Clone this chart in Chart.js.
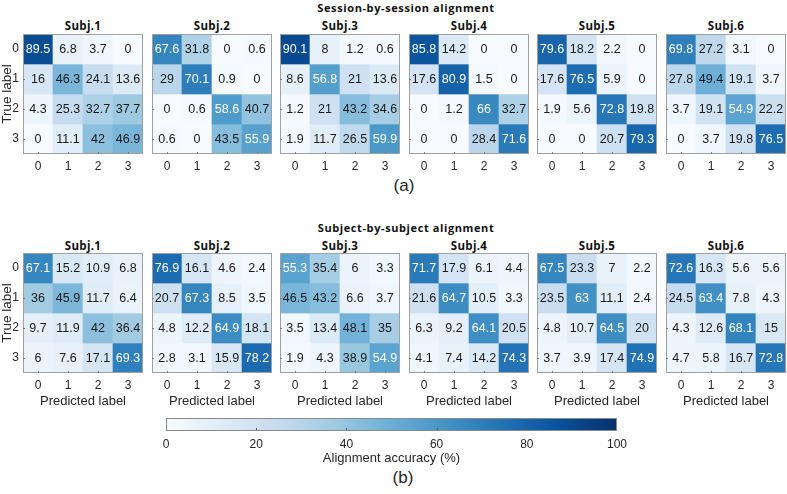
<!DOCTYPE html>
<html><head><meta charset="utf-8">
<script src="https://cdn.jsdelivr.net/npm/chart.js@4/dist/chart.umd.min.js"></script>
<style>
body{margin:0;background:#fff;width:787px;height:494px;overflow:hidden;position:relative;font-family:"Liberation Sans",Arial,sans-serif;color:#262626}
canvas{position:absolute}
.t{position:absolute;white-space:nowrap;transform:translate(-50%,-50%);line-height:1}
.sec{font-family:"Open Sans",sans-serif;font-weight:700;font-size:11px;letter-spacing:0.6px;color:#111}
.subj{font-family:"Open Sans",sans-serif;font-weight:700;font-size:11.5px;letter-spacing:0.3px;color:#111}
.lab{font-size:17px}
.yl{font-size:13.5px;transform:translate(-50%,-50%) rotate(-90deg)}
</style></head><body>
<script>
const predictedLabels = ['0','1','2','3'];
const trueLabels = ['0','1','2','3'];
const subjects = ['Subj.1','Subj.2','Subj.3','Subj.4','Subj.5','Subj.6'];

// (a) Session-by-session alignment
const sessionS1 = [[89.5,6.8,3.7,0],[16,46.3,24.1,13.6],[4.3,25.3,32.7,37.7],[0,11.1,42,46.9]];
const sessionS2 = [[67.6,31.8,0,0.6],[29,70.1,0.9,0],[0,0.6,58.6,40.7],[0.6,0,43.5,55.9]];
const sessionS3 = [[90.1,8,1.2,0.6],[8.6,56.8,21,13.6],[1.2,21,43.2,34.6],[1.9,11.7,26.5,59.9]];
const sessionS4 = [[85.8,14.2,0,0],[17.6,80.9,1.5,0],[0,1.2,66,32.7],[0,0,28.4,71.6]];
const sessionS5 = [[79.6,18.2,2.2,0],[17.6,76.5,5.9,0],[1.9,5.6,72.8,19.8],[0,0,20.7,79.3]];
const sessionS6 = [[69.8,27.2,3.1,0],[27.8,49.4,19.1,3.7],[3.7,19.1,54.9,22.2],[0,3.7,19.8,76.5]];

// (b) Subject-by-subject alignment
const subjectS1 = [[67.1,15.2,10.9,6.8],[36,45.9,11.7,6.4],[9.7,11.9,42,36.4],[6,7.6,17.1,69.3]];
const subjectS2 = [[76.9,16.1,4.6,2.4],[20.7,67.3,8.5,3.5],[4.8,12.2,64.9,18.1],[2.8,3.1,15.9,78.2]];
const subjectS3 = [[55.3,35.4,6,3.3],[46.5,43.2,6.6,3.7],[3.5,13.4,48.1,35],[1.9,4.3,38.9,54.9]];
const subjectS4 = [[71.7,17.9,6.1,4.4],[21.6,64.7,10.5,3.3],[6.3,9.2,64.1,20.5],[4.1,7.4,14.2,74.3]];
const subjectS5 = [[67.5,23.3,7,2.2],[23.5,63,11.1,2.4],[4.8,10.7,64.5,20],[3.7,3.9,17.4,74.9]];
const subjectS6 = [[72.6,16.3,5.6,5.6],[24.5,63.4,7.8,4.3],[4.3,12.6,68.1,15],[4.7,5.8,16.7,72.8]];

const sessionMatrices = [sessionS1,sessionS2,sessionS3,sessionS4,sessionS5,sessionS6];
const subjectMatrices = [subjectS1,subjectS2,subjectS3,subjectS4,subjectS5,subjectS6];
const colorbarRange = [0,100];
const colorbarStep = 20;

const BLUES = ['#f7fbff','#deebf7','#c6dbef','#9ecae1','#6baed6','#4292c6','#2171b5','#08519c','#08306b'];
function hex(c){return [1,3,5].map(i=>parseInt(c.substr(i,2),16));}
function blue(v){
  const t = Math.max(0,Math.min(1,v/100))*(BLUES.length-1);
  const i = Math.min(Math.floor(t),BLUES.length-2), f=t-i;
  const a=hex(BLUES[i]), b=hex(BLUES[i+1]);
  return 'rgb('+a.map((x,k)=>Math.round(x+(b[k]-x)*f)).join(',')+')';
}

Chart.defaults.font.family = '"Liberation Sans", Arial, sans-serif';
Chart.defaults.color = '#262626';

function text(str, x, y, cls){
  const d=document.createElement('div'); d.className='t '+cls; d.textContent=str;
  d.style.left=x+'px'; d.style.top=y+'px'; document.body.appendChild(d);
}

const cellPlugin = {
  id:'cells',
  afterDatasetsDraw(chart){
    const ctx=chart.ctx, a=chart.chartArea;
    ctx.save();
    ctx.font='12.5px "Liberation Sans", Arial, sans-serif';
    ctx.textAlign='center'; ctx.textBaseline='middle';
    chart.data.datasets.forEach((ds,i)=>{
      const meta=chart.getDatasetMeta(i);
      meta.data.forEach((el,j)=>{
        const v=ds.values[j];
        const p=el.getProps(['x','y','base'],true);
        ctx.fillStyle = v>52 ? '#ffffff' : '#1a1a1a';
        ctx.fillText(String(v), p.x, (p.y+p.base)/2+0.5);
      });
    });
    ctx.strokeStyle='#a0a0a0'; ctx.lineWidth=1;
    ctx.strokeRect(a.left+0.5,a.top+0.5,a.right-a.left-1,a.bottom-a.top-1);
    ctx.strokeStyle='#7a7a7a';
    const xs=chart.scales.x, ys=chart.scales.y;
    predictedLabels.forEach((l,j)=>{
      const x=Math.round(xs.getPixelForValue(j))+0.5;
      ctx.beginPath(); ctx.moveTo(x,a.bottom); ctx.lineTo(x,a.bottom-2); ctx.stroke();
    });
    trueLabels.forEach((l,i)=>{
      const y=Math.round(ys.getPixelForValue(i+0.5))+0.5;
      ctx.beginPath(); ctx.moveTo(a.left,y); ctx.lineTo(a.left+2,y); ctx.stroke();
    });
    ctx.restore();
  }
};

function noPad(s){s.paddingTop=0;s.paddingBottom=0;s.paddingLeft=0;s.paddingRight=0;}

function makeMatrix(matrix, L, T, showY, showXTitle){
  const padL = showY ? 23 : 1;
  const xH = showXTitle ? 36 : 20;
  const cv=document.createElement('canvas');
  cv.width=padL+120+2; cv.height=1+120+xH;
  cv.style.left=(L-padL)+'px'; cv.style.top=(T-1)+'px';
  document.body.appendChild(cv);
  const datasets = trueLabels.map((lab,i)=>({
    label:lab,
    data:predictedLabels.map(()=>[i,i+1]),
    values:matrix[i],
    backgroundColor:(c)=>blue(matrix[i][c.dataIndex]),
    borderWidth:0, barPercentage:1, categoryPercentage:1, grouped:false
  }));
  const yScale = {
    type:'linear', display:showY, min:0, max:4, reverse:true,
    grid:{display:false,drawTicks:false}, border:{display:false},
    afterBuildTicks:s=>{s.ticks=trueLabels.map((l,i)=>({value:i+0.5}));},
    ticks:{padding:4, font:{size:12}, callback:(v)=>trueLabels[Math.floor(v)]},
    afterFit:s=>{ if(showY) s.width=22; noPad(s); }
  };
  new Chart(cv,{
    type:'bar',
    data:{labels:predictedLabels, datasets},
    options:{
      responsive:false, animation:false, devicePixelRatio:1,
      layout:{padding:{left:1,top:1,right:2,bottom:0}},
      plugins:{legend:{display:false},tooltip:{enabled:false}},
      scales:{
        x:{type:'category', grid:{display:false,drawTicks:false}, border:{display:false},
           ticks:{padding:5,font:{size:12},maxRotation:0},
           title:{display:showXTitle,text:'Predicted label',padding:0,font:{size:13}},
           afterFit:s=>{s.height=xH; noPad(s);}},
        y:yScale
      }
    },
    plugins:[cellPlugin]
  });
}

const lefts=[0,1,2,3,4,5].map(c=>Math.round(23+128.6*c));
const topA=34, topB=253;
text('Session-by-session alignment',406,7,'sec');
text('Subject-by-subject alignment',406,226.5,'sec');
subjects.forEach((s,c)=>{
  text(s,lefts[c]+60,26,'subj');
  text(s,lefts[c]+60,245.5,'subj');
  makeMatrix(sessionMatrices[c],lefts[c],topA,c===0,false);
  makeMatrix(subjectMatrices[c],lefts[c],topB,c===0,true);
});
text('True label',7,94,'yl');
text('True label',7,313,'yl');
text('(a)',404,185,'lab');
text('(b)',403,477,'lab');

// colorbar
(function(){
  const cv=document.createElement('canvas');
  cv.width=500; cv.height=56; cv.style.left='140px'; cv.style.top='410px';
  document.body.appendChild(cv);
  const cbPlugin={id:'cb',afterDatasetsDraw(chart){
    const ctx=chart.ctx,a=chart.chartArea,xs=chart.scales.x;
    ctx.save();
    ctx.strokeStyle='#5a5a5a'; ctx.lineWidth=1;
    xs.ticks.forEach(t=>{
      if(t.value<=colorbarRange[0]||t.value>=colorbarRange[1]) return;
      const x=Math.round(xs.getPixelForValue(t.value))+0.5;
      ctx.beginPath(); ctx.moveTo(x,a.bottom); ctx.lineTo(x,a.bottom-3); ctx.stroke();
    });
    ctx.strokeStyle='#8a8a8a';
    ctx.strokeRect(a.left+0.5,a.top+0.5,a.right-a.left-1,a.bottom-a.top-1);
    ctx.restore();
  }};
  new Chart(cv,{
    type:'bar',
    data:{labels:['accuracy'],datasets:[{data:[colorbarRange],borderWidth:0,barPercentage:1,categoryPercentage:1,
      backgroundColor:(c)=>{
        const a=c.chart.chartArea; if(!a) return BLUES[4];
        const g=c.chart.ctx.createLinearGradient(a.left,0,a.right,0);
        BLUES.forEach((col,k)=>g.addColorStop(k/(BLUES.length-1),col));
        return g;
      }}]},
    options:{
      indexAxis:'y', responsive:false, animation:false, devicePixelRatio:1,
      layout:{padding:{left:26,top:8,right:23,bottom:0}},
      plugins:{legend:{display:false},tooltip:{enabled:false}},
      scales:{
        y:{display:false},
        x:{type:'linear',min:colorbarRange[0],max:colorbarRange[1],
           grid:{display:false,drawTicks:false}, border:{display:false},
           ticks:{stepSize:colorbarStep,padding:6,font:{size:12}},
           title:{display:true,text:'Alignment accuracy (%)',padding:0,font:{size:13}},
           afterFit:s=>{s.height=35;}}
      }
    },
    plugins:[cbPlugin]
  });
})();
</script>
</body></html>
